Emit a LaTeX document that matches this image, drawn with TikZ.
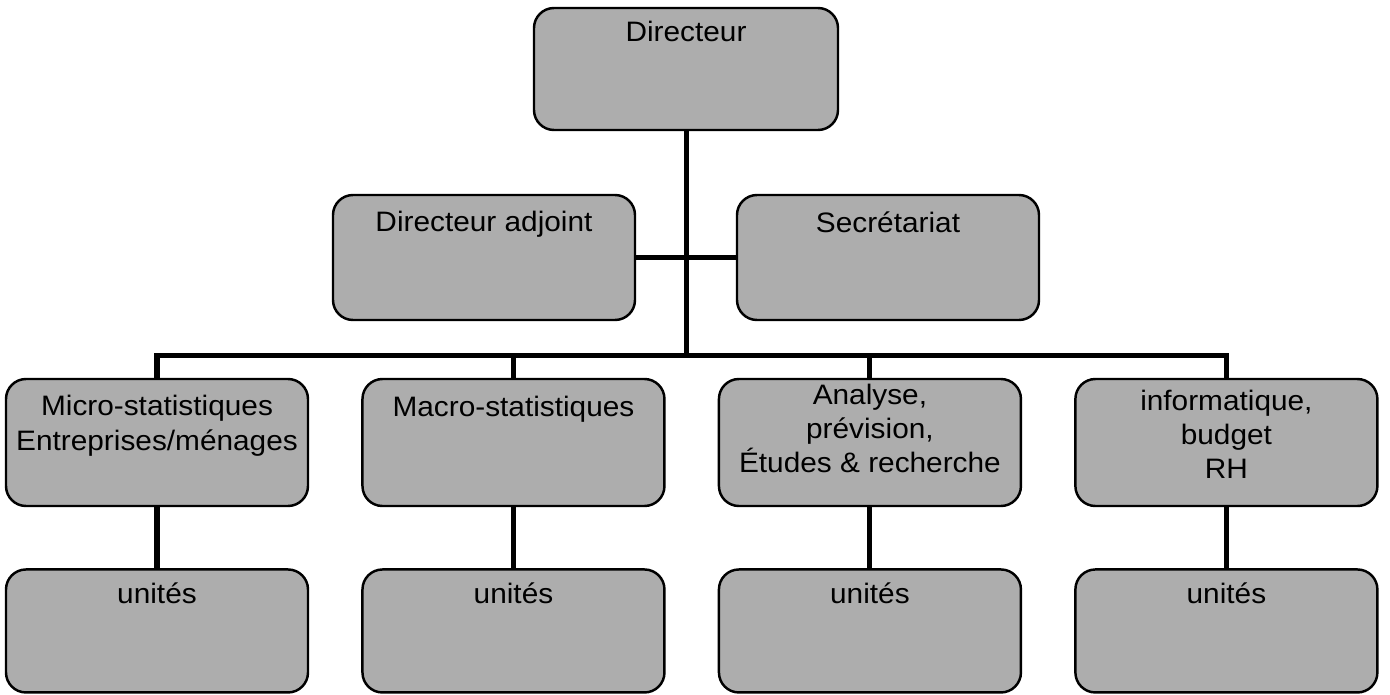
\documentclass[tikz,border=0pt]{standalone}
\usepackage{fontspec}
\setmainfont[FakeStretch=1.06]{Liberation Sans}
\usetikzlibrary{positioning}
\tikzstyle{box_org}=[draw=black, line width=1.4pt, rounded corners=4mm,
fill=black!32, minimum width=60.4mm, minimum height=25mm, inner sep=0pt]
\tikzstyle{box_rang}=[box_org, minimum height=25.4mm]
\tikzstyle{box_unite}=[box_org, minimum height=24.6mm]
\tikzstyle{libelle}=[anchor=north, align=center, inner sep=0pt,
font=\fontsize{16}{19.4}\selectfont]
\tikzstyle{trait}=[line width=2.85pt]

\begin{document}
\begin{tikzpicture}[x=0.2mm, y=-0.2mm]
		\useasboundingbox (0,0) rectangle (1390,695);

		% direction
		\node[box_org, minimum width=60.8mm, minimum height=24.4mm] (dir) at (686,69) {};
		\node[libelle, below=2.9mm of dir.north] (dirT) {Directeur};

		\node[box_org] (adj) at (484,257.5) {};
		\node[libelle, below=3.5mm of adj.north] (adjT) {Directeur adjoint};

		\node[box_org] (sec) at (888,257.5) {};
		\node[libelle, below=3.5mm of sec.north] (secT) {Secrétariat};

		% départements
		\node[box_rang] (micro) at (157,442.5) {};
		\node[libelle, below=3.5mm of micro.north] (microT) {Micro-statistiques\\Entreprises/ménages};

		\node[box_rang, right=10.4mm of micro] (macro) {};
		\node[libelle, below=3.5mm of macro.north] (macroT) {Macro-statistiques};

		\node[box_rang, right=10.4mm of macro] (ana) {};
		\node[libelle, below=1.1mm of ana.north] (anaT) {Analyse,\\prévision,\\Études \& recherche};

		\node[box_rang, right=10.4mm of ana] (info) {};
		\node[libelle, below=2.3mm of info.north] (infoT) {informatique,\\budget\\RH};

		% unités
		\foreach \b in {micro,macro,ana,info} {
			\node[box_unite, below=12.2mm of \b] (u_\b) {};
			\node[libelle, below=2.9mm of u_\b.north] (u_\b T) {unités};
			\draw[trait] (\b.south) -- (u_\b.north);
		}

		% liaisons
		\coordinate (bus) at (686,355);
		\draw[trait] (dir.south) -- (bus);
		\draw[trait] (adj.east) -- (sec.west);
		\draw[trait] (micro.north) |- (bus) -| (info.north);
		\draw[trait] (macro.north) -- (macro.north |- bus);
		\draw[trait] (ana.north) -- (ana.north |- bus);

	\end{tikzpicture}
\end{document}
